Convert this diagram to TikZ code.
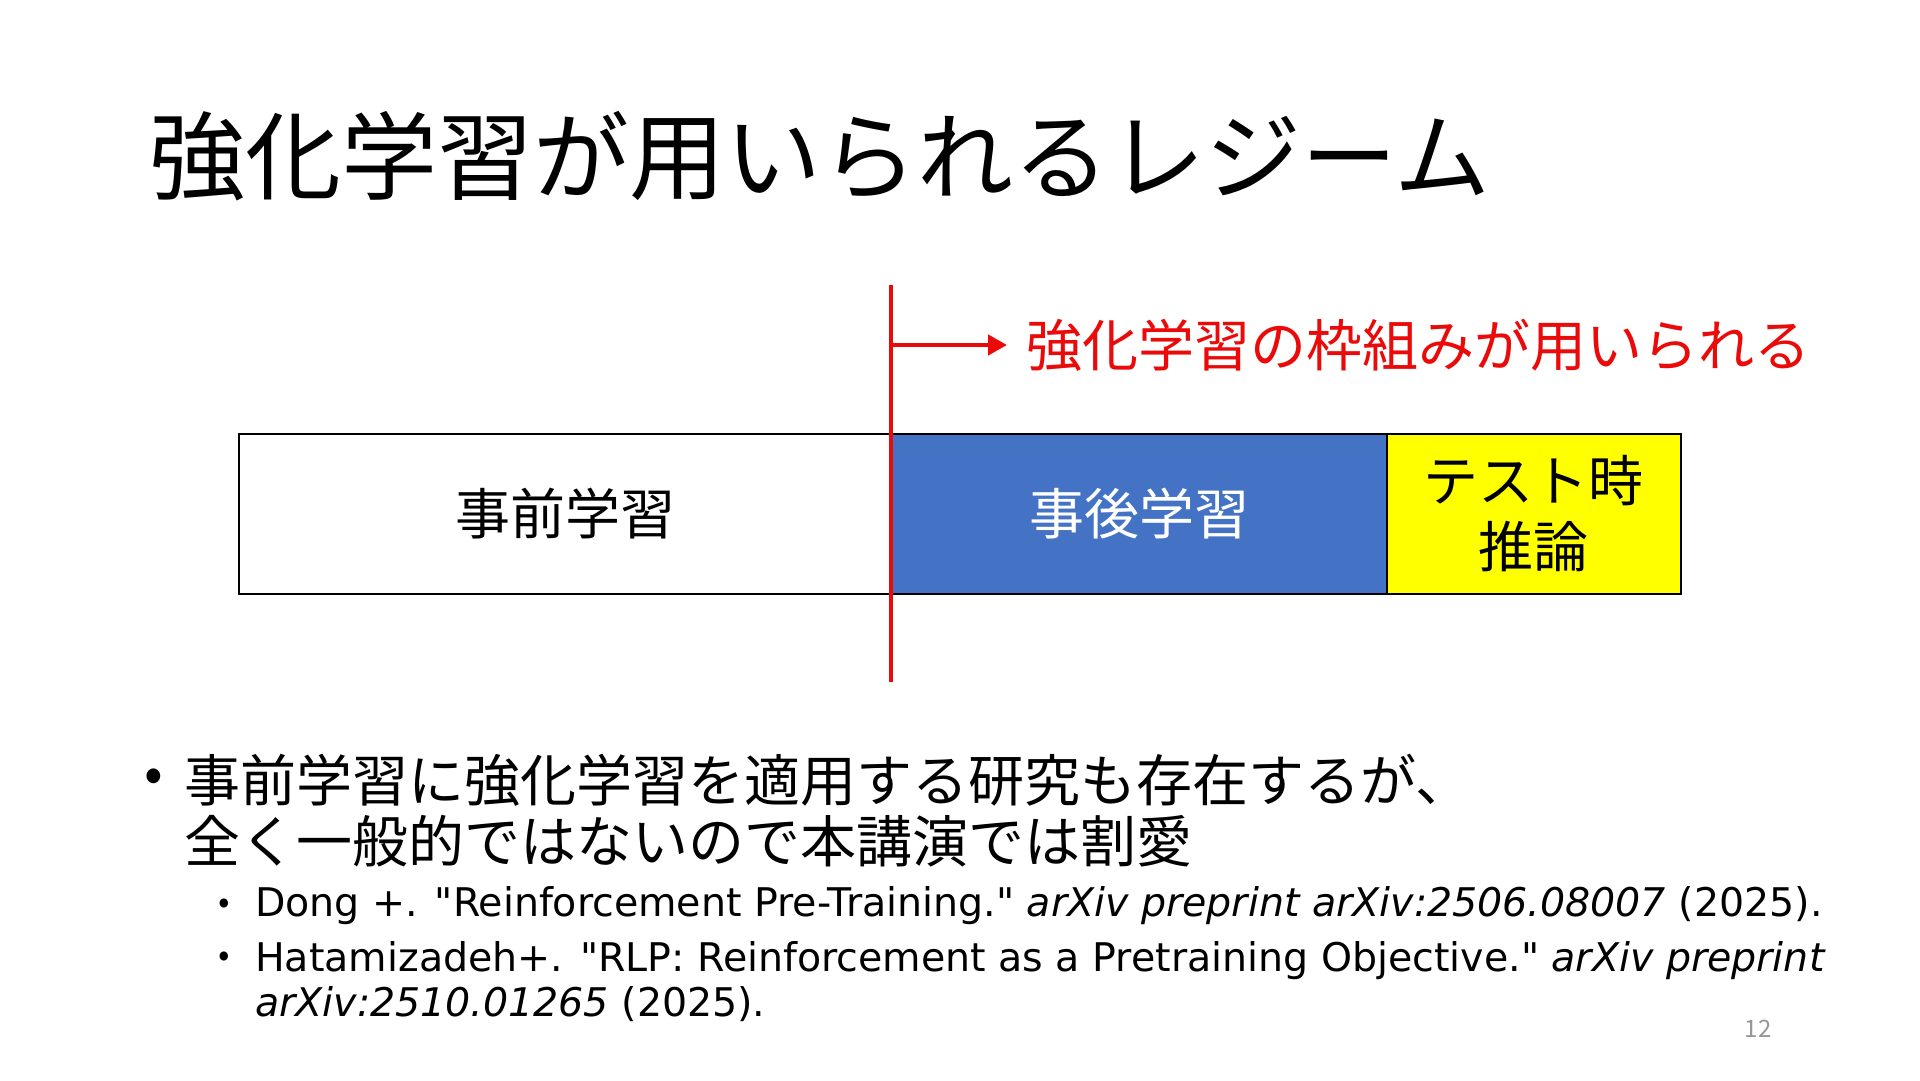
\documentclass[tikz,border=0pt]{standalone}
\usepackage{fontspec}
\setmainfont{Noto Sans CJK JP}[ItalicFont=Noto Sans CJK JP, ItalicFeatures={FakeSlant=0.2}]
\newfontfamily\reffont{DejaVu Sans}
\usetikzlibrary{arrows.meta}
\definecolor{slred}{RGB}{235,10,10}
\definecolor{slblue}{RGB}{68,114,196}
\definecolor{slyellow}{RGB}{255,255,0}
\definecolor{slgray}{RGB}{150,150,150}
\begin{document}
\begin{tikzpicture}[x=1pt,y=-1pt,
  titletext/.style={anchor=west,inner sep=0pt,font=\fontsize{96}{110}\selectfont},
  phasebox/.style={draw=black,line width=1.6pt,anchor=north west,minimum height=160pt,inner sep=0pt,font=\fontsize{55}{66}\selectfont,align=center},
  redline/.style={draw=slred,line width=4.5pt},
  redlabel/.style={anchor=west,inner sep=0pt,text=slred,font=\fontsize{56}{66}\selectfont},
  bodytext/.style={anchor=west,inner sep=0pt,align=left,font=\fontsize{56}{61}\selectfont},
  subtext/.style={anchor=west,inner sep=0pt,align=left,font=\reffont\fontsize{39.5}{45}\selectfont},
  bigbullet/.style={inner sep=0pt,font=\fontsize{55}{61}\selectfont},
  smallbullet/.style={inner sep=0pt,font=\fontsize{34}{40}\selectfont},
  pagenum/.style={inner sep=0pt,text=slgray,font=\fontsize{24}{28}\selectfont}
]
\path[use as bounding box,fill=white] (0,0) rectangle (1920,1080);

\node[titletext] (title) at (149,156) {強化学習が用いられるレジーム};

\node[phasebox,fill=white,minimum width=653pt] (pre) at (238,433) {事前学習};
\node[phasebox,fill=slblue,text=white,minimum width=495pt] (post) at (891,433) {事後学習};
\node[phasebox,fill=slyellow,minimum width=294pt] (test) at (1386,433) {テスト時\\推論};

\coordinate (ltop) at (891,285);
\coordinate (lbot) at (891,682);
\draw[redline] (ltop) -- (lbot);
\coordinate (astart) at (891,345);
\node[redlabel] (rl) at (1026,345) {強化学習の枠組みが用いられる};
\draw[redline,-{Triangle[length=19pt,width=20pt]},shorten >=19pt] (astart) -- (rl.west);

\node[bigbullet] (b1) at (154,781) {•};
\node[bodytext] (t1) at (184,811) {事前学習に強化学習を適用する研究も存在するが、\\全く一般的ではないので本講演では割愛};

\node[smallbullet] (sb1) at (224,906) {•};
\node[subtext] (s1) at (255,906) {Dong +. "Reinforcement Pre-Training." \textit{arXiv preprint arXiv:2506.08007} (2025).};
\node[smallbullet] (sb2) at (224,959) {•};
\node[subtext] (s2) at (255,981.5) {Hatamizadeh+. "RLP: Reinforcement as a Pretraining Objective." \textit{arXiv preprint}\\\textit{arXiv:2510.01265} (2025).};

\node[pagenum] (pn) at (1758,1029) {12};
\end{tikzpicture}
\end{document}
